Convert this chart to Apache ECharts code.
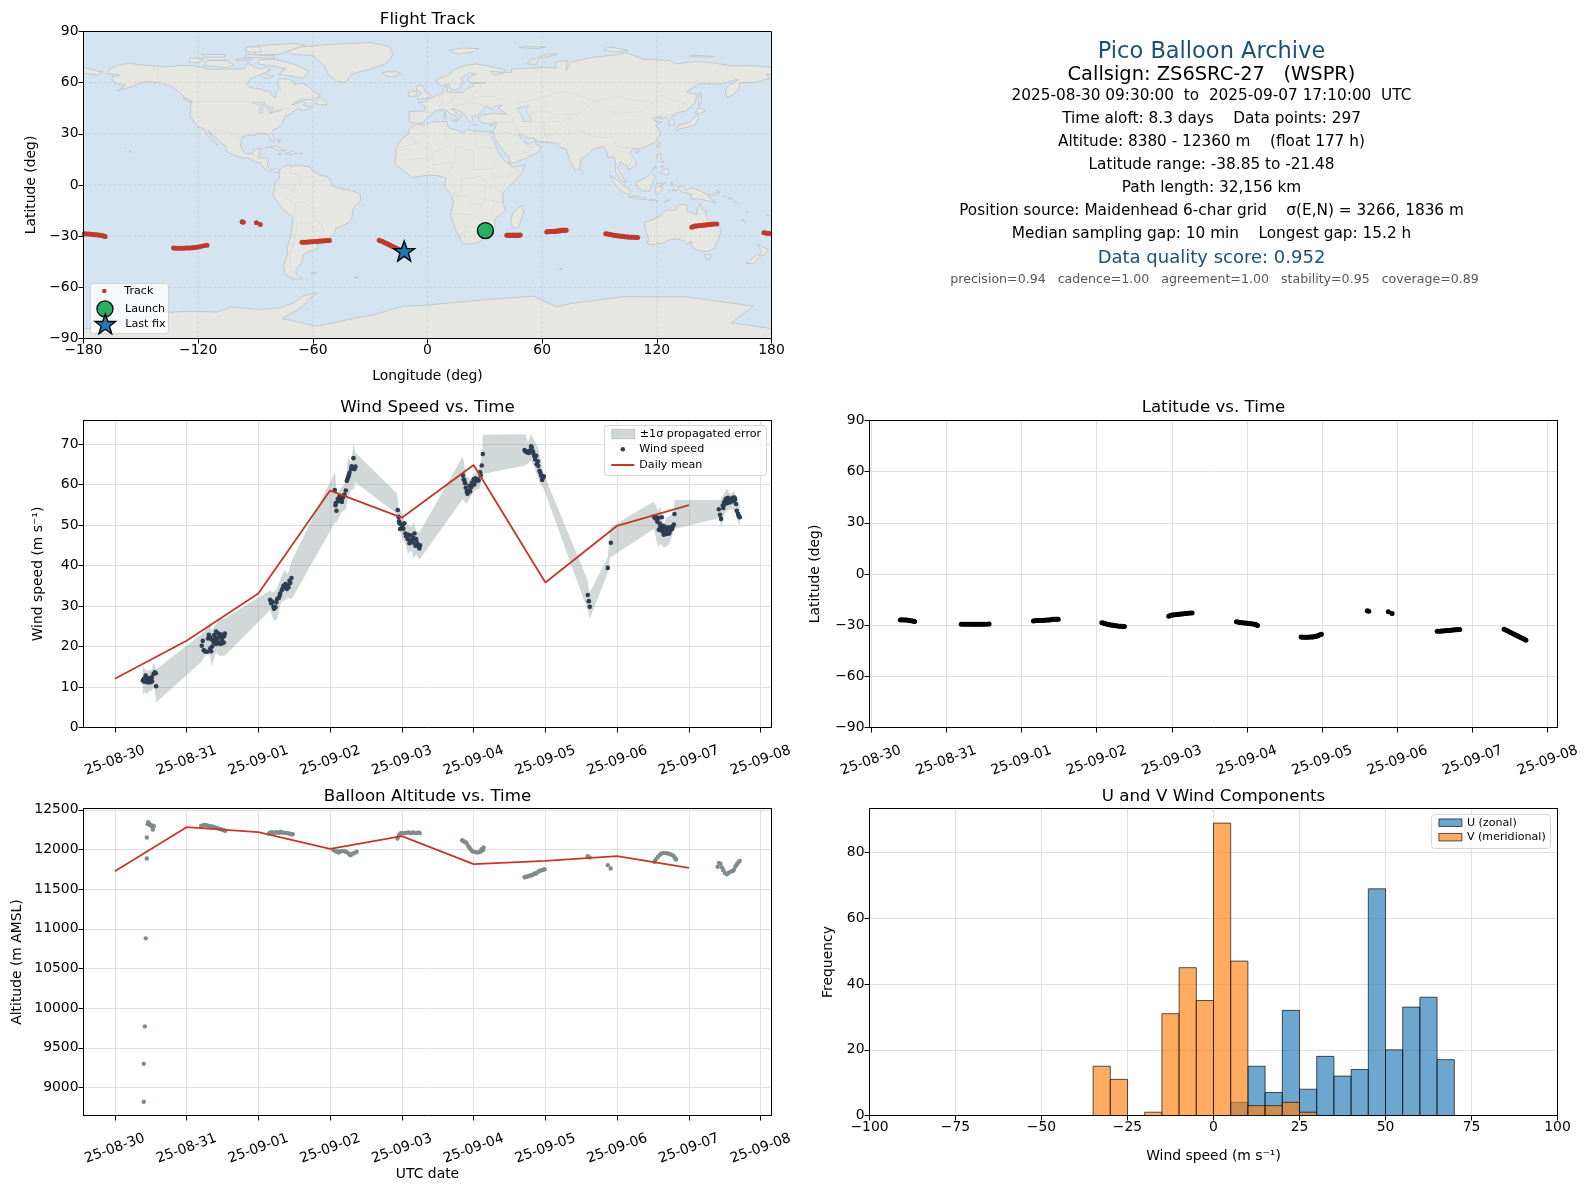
<!DOCTYPE html>
<html><head><meta charset="utf-8"><style>html,body{margin:0;padding:0;background:#fff}#c{width:1588px;height:1189px}</style>
<script src="https://cdn.jsdelivr.net/npm/echarts@6/dist/echarts.min.js"></script></head>
<body><div id="c"></div>
<script>
// ---------- tick labels ----------
const dayTicks = [0,1,2,3,4,5,6,7,8,9];
const dayLabels = ['25-08-30','25-08-31','25-09-01','25-09-02','25-09-03','25-09-04','25-09-05','25-09-06','25-09-07','25-09-08'];
const altTicks = [9000,9500,10000,10500,11000,11500,12000,12500];
const windTicks = [0,10,20,30,40,50,60,70];
const freqTicks = [0,20,40,60,80];
const lonLines = [-120,-60,0,60,120];
const latLines = [-60,-30,0,30,60];
// ---------- track (day since 08-30 00:00 UTC, lat, lon) ----------
const trackDay = [0.39,0.41,0.43,0.45,0.47,0.49,0.51,0.53,0.55,0.57,0.58,
 1.20,1.225,1.25,1.275,1.30,1.325,1.35,1.37,1.39,1.41,1.435,1.46,1.485,1.51,1.54,1.57,
 2.16,2.18,2.20,2.22,2.24,2.26,2.28,2.30,2.32,2.34,2.36,2.38,2.40,2.42,2.44,2.46,2.475,2.49,
 3.07,3.09,3.105,3.12,3.14,3.155,3.17,3.19,3.21,3.225,3.24,3.26,3.28,3.30,3.32,3.34,3.355,3.37,
 3.96,3.98,4.0,4.02,4.04,4.06,4.08,4.10,4.12,4.14,4.16,4.18,4.20,4.22,4.245,4.27,
 4.86,4.88,4.90,4.92,4.94,4.96,4.98,5.0,5.02,5.04,5.06,5.08,5.10,5.115,5.13,5.14,
 5.72,5.74,5.76,5.78,5.80,5.82,5.84,5.86,5.875,5.89,5.905,5.92,5.935,5.95,5.97,5.99,
 6.60,6.62,6.88,6.93,
 7.53,7.55,7.57,7.59,7.61,7.63,7.65,7.67,7.69,7.71,7.73,7.75,7.77,7.79,7.81,7.83,
 8.42,8.44,8.46,8.48,8.50,8.52,8.54,8.56,8.58,8.60,8.62,8.64,8.66,8.68,8.695,8.71];
const trackLat = [-26.9,-26.8,-26.9,-27.0,-27.0,-27.1,-27.3,-27.4,-27.6,-27.7,-27.8,
 -29.4,-29.4,-29.5,-29.4,-29.4,-29.5,-29.4,-29.4,-29.4,-29.5,-29.4,-29.4,-29.5,-29.4,-29.4,-29.3,
 -27.5,-27.4,-27.3,-27.3,-27.2,-27.2,-27.2,-27.1,-27.1,-27.0,-27.0,-26.9,-26.7,-26.6,-26.5,-26.5,-26.5,-26.6,
 -28.6,-28.8,-29.0,-29.2,-29.4,-29.6,-29.7,-29.9,-30.0,-30.1,-30.3,-30.4,-30.5,-30.6,-30.7,-30.7,-30.8,-30.8,
 -24.8,-24.4,-24.1,-24.0,-23.9,-23.8,-23.7,-23.6,-23.5,-23.4,-23.3,-23.2,-23.1,-23.0,-22.9,-22.9,
 -28.0,-28.2,-28.4,-28.5,-28.6,-28.7,-28.8,-28.9,-29.0,-29.1,-29.2,-29.3,-29.4,-29.6,-29.9,-30.2,
 -37.0,-37.05,-37.1,-37.1,-37.1,-37.1,-37.0,-37.0,-36.9,-36.8,-36.7,-36.5,-36.3,-36.0,-35.6,-35.3,
 -21.5,-21.8,-22.2,-23.1,
 -33.5,-33.5,-33.5,-33.4,-33.4,-33.3,-33.3,-33.2,-33.1,-33.0,-32.9,-32.8,-32.7,-32.7,-32.6,-32.5,
 -32.4,-32.8,-33.2,-33.7,-34.2,-34.6,-35.0,-35.5,-35.9,-36.3,-36.8,-37.2,-37.6,-38.0,-38.4,-38.85];
const trackLon = [30.3,30.5,30.8,31.0,31.3,31.6,31.9,32.2,32.6,33.0,33.3,
 41.5,42.0,42.5,43.0,43.4,43.9,44.3,44.7,45.1,45.5,46.0,46.5,47.0,47.5,48.0,48.5,
 62.4,63.0,63.6,64.2,64.8,65.4,66.0,66.6,67.2,67.8,68.4,69.0,69.6,70.2,70.8,71.4,72.0,72.6,
 93.3,94.3,95.3,96.3,97.3,98.3,99.3,100.3,101.2,102.1,103,103.9,104.8,105.8,106.8,107.9,109,110,
 138.3,139.2,140.1,141,141.8,142.6,143.4,144.2,145,145.8,146.6,147.4,148.2,149.1,150.2,151.4,
 176,177,178,179,-179.6,-178.6,-177.6,-176.5,-175.4,-174.4,-173.4,-172.4,-171.4,-170.4,-169.5,-168.7,
 -132.9,-131.8,-130.7,-129.6,-128.5,-127.4,-126.3,-125.2,-124.1,-123,-121.9,-120.8,-119.7,-118.6,-117,-115.4,
 -97.0,-96.4,-89.5,-87.5,
 -65.7,-64.7,-63.7,-62.8,-61.9,-61,-60,-59,-58,-57,-56.1,-55.2,-54.3,-53.3,-52.3,-51.3,
 -25.3,-24.4,-23.5,-22.6,-21.7,-20.9,-20.1,-19.3,-18.5,-17.7,-16.9,-16.1,-15.3,-14.5,-13.4,-12.2];
const launchLonLat = [30.3,-26.7];
const lastFixLonLat = [-12.2,-38.7];
// ---------- wind speed ----------
const windDay = [0.39,0.404,0.423,0.437,0.451,0.464,0.478,0.492,0.506,0.52,0.539,0.557,0.571,0.576,
 1.212,1.226,1.24,1.263,1.287,1.31,1.328,1.342,1.356,1.379,1.393,1.412,1.421,1.44,1.458,1.472,1.491,1.505,1.519,1.533,
 2.164,2.192,2.211,2.239,2.262,2.285,2.304,2.327,2.35,2.378,2.397,2.42,2.434,2.462,
 3.065,3.075,3.089,3.107,3.13,3.154,3.177,3.2,3.219,3.233,3.251,3.27,3.293,3.326,3.344,3.353,
 3.943,3.953,3.967,3.976,4.004,4.036,4.05,4.083,4.106,4.129,4.152,4.176,4.199,4.222,4.236,4.254,
 4.85,4.863,4.882,4.905,4.928,4.942,4.965,4.979,5.002,5.025,5.058,5.091,5.114,5.128,
 5.709,5.732,5.755,5.779,5.802,5.825,5.848,5.872,5.88,5.895,5.918,5.941,5.955,5.978,
 6.591,6.605,6.619,6.87,6.912,
 7.511,7.544,7.572,7.581,7.59,7.604,7.622,7.636,7.65,7.674,7.692,7.715,7.738,7.766,7.79,7.799,
 8.417,8.435,8.449,8.472,8.491,8.51,8.528,8.547,8.565,8.589,8.612,8.635,8.658,8.667,8.686,8.709,
 0.41,0.43,0.445,0.47,0.50,0.515,
 1.30,1.33,1.35,1.385,1.41,1.43,1.45,1.475,1.50,1.525,
 2.18,2.22,2.25,2.30,2.34,2.365,2.41,2.445,
 3.08,3.12,3.14,3.165,3.24,3.26,3.30,3.34,
 3.96,3.99,4.02,4.06,4.09,4.115,4.14,4.165,4.19,4.21,4.245,
 4.87,4.89,4.915,4.95,4.99,5.01,5.04,5.07,5.10,
 5.72,5.74,5.77,5.81,5.835,5.86,5.90,5.93,5.965,
 7.53,7.56,7.60,7.63,7.645,7.66,7.68,7.70,7.725,7.75,7.775,
 8.48,8.50,8.52,8.54,8.555,8.58,8.60,8.625,8.645,8.695];
const windSpeed = [11.6,12.0,11.4,12.4,11.7,11.1,12.2,11.7,12.0,11.4,13.2,13.6,13.4,10.2,
 20.2,21.4,19.1,18.7,18.7,22.9,22.3,18.8,20.0,21.0,21.8,23.7,21.3,23.2,22.3,20.6,21.6,22.3,21.0,23.2,
 31.5,31.1,29.8,29.7,31.7,32.0,33.1,33.9,35.0,35.4,34.2,34.6,36.2,36.9,
 58.6,54.9,53.5,56.4,57.0,56.2,56.7,57.5,58.5,60.9,61.8,62.9,63.8,66.5,64.2,64.4,
 53.7,52.0,50.4,49.0,49.8,50.4,47.9,46.5,45.5,47.4,45.7,47.9,46.5,45.1,44.5,45.0,
 62.3,61.3,60.3,58.2,58.5,59.7,59.3,60.5,61.3,61.5,61.3,63.0,64.7,67.5,
 68.5,68.2,67.9,68.3,69.4,68.2,66.9,67.1,65.0,65.7,63.4,62.2,61.1,62.0,
 32.7,31.2,29.8,39.4,45.6,
 52.1,51.9,51.7,48.8,50.4,48.8,51.9,49.8,47.6,49.0,47.8,49.4,48.6,49.0,50.1,52.7,
 53.9,52.5,51.5,54.8,55.6,56.2,55.8,56.7,56.0,56.2,56.7,56.8,55.2,53.5,52.7,51.9,
 11.3,12.8,12.1,11.5,11.2,12.4,
 22.0,19.5,21.7,22.8,20.6,22.1,20.9,23.0,20.8,22.6,
 30.7,29.3,30.9,32.6,34.4,34.9,35.1,35.7,
 55.4,55.9,56.9,55.7,61.2,62.3,64.5,63.8,
 50.9,50.2,49.1,47.2,47.6,46.1,46.4,46.8,44.9,45.6,44.2,
 60.9,59.2,57.7,58.3,60.2,60.0,60.9,61.0,62.2,
 68.2,68.0,67.8,69.1,67.6,66.2,64.6,62.9,61.6,
 51.6,50.8,49.6,48.4,48.9,49.6,48.2,48.9,47.9,49.4,49.7,
 54.2,55.1,56.5,55.4,56.4,55.6,56.4,55.9,56.3,52.2];
// ---------- +/-1 sigma band ----------
const bandDay = [0.39,0.418,0.451,0.483,0.52,0.548,0.576,
 1.212,1.273,1.328,1.347,1.412,1.458,1.533,
 2.164,2.211,2.257,2.318,2.364,2.411,2.466,
 3.07,3.093,3.154,3.223,3.247,3.293,3.326,3.353,
 3.934,3.957,3.99,4.059,4.083,4.129,4.166,4.199,4.245,
 4.85,4.896,4.942,5.012,5.082,5.119,5.128,
 5.723,5.755,5.802,5.848,5.895,5.941,5.978,
 6.591,6.605,6.619,6.87,6.902,
 7.511,7.572,7.599,7.646,7.692,7.738,7.785,7.799,
 8.426,8.449,8.486,8.528,8.574,8.635,8.667,8.709];
const bandHigh = [15.3,14.4,14.0,14.2,14.4,16.1,14.4,
 23.1,24.3,26.2,23.9,25.5,26.8,27.0,
 33.8,33.4,34.2,37.1,38.9,37.9,41.2,
 63.2,57.6,59.3,60.5,66.7,65.5,70.2,67.9,
 57.8,53.9,53.5,49.8,50.2,49.4,50.7,48.6,48.2,
 66.9,62.2,61.3,62.6,64.2,67.5,72.3,
 72.4,70.4,72.4,70.8,69.2,65.9,62.6,
 36.3,33.8,33.4,42.0,49.4,
 55.8,53.5,54.8,50.2,51.9,52.3,53.1,56.2,
 56.2,56.4,57.6,59.1,57.6,58.4,56.0,54.8];
const bandLow = [7.9,8.7,8.3,9.1,9.1,10.3,6.2,
 16.3,18.3,17.7,15.1,18.6,17.7,17.7,
 29.0,26.5,26.5,30.9,31.3,32.1,31.7,
 50.7,50.7,53.1,53.9,56.4,58.5,58.9,60.5,
 52.7,49.8,47.4,44.9,42.8,43.7,41.6,42.8,41.4,
 56.4,55.2,56.4,58.5,58.9,62.2,62.6,
 64.7,65.2,65.9,64.2,61.8,59.7,58.9,
 28.9,28.0,26.8,38.3,42.0,
 49.0,44.5,45.3,44.5,44.7,45.7,48.6,49.0,
 51.7,49.4,52.3,53.5,53.9,53.5,51.5,49.6];
// ---------- daily means ----------
const meanDay = [0,1,2,3,4,5,6,7,8];
const meanWind = [12.05,21.4,33.1,58.5,51.8,64.8,35.8,49.8,54.9];
const meanAlt = [11727,12281,12218,12008,12168,11815,11857,11916,11769];
// ---------- altitude ----------
const altDay = [0.404,0.404,0.418,0.432,0.446,0.446,0.46,0.465,0.472,0.48,0.49,0.50,0.51,0.52,0.53,0.535,0.545,
 1.203,1.225,1.25,1.27,1.29,1.31,1.33,1.35,1.37,1.40,1.43,1.46,1.49,1.52,1.54,
 2.146,2.17,2.19,2.21,2.24,2.26,2.29,2.31,2.33,2.36,2.38,2.40,2.43,2.46,2.48,
 3.05,3.07,3.085,3.10,3.12,3.13,3.15,3.17,3.20,3.22,3.25,3.27,3.285,3.30,3.32,3.345,3.37,
 3.94,3.96,3.98,4.0,4.03,4.06,4.09,4.12,4.15,4.18,4.21,4.23,4.25,
 4.84,4.86,4.88,4.90,4.92,4.94,4.96,4.98,5.01,5.04,5.07,5.10,5.13,5.14,5.11,
 5.71,5.73,5.75,5.77,5.79,5.81,5.83,5.85,5.87,5.89,5.91,5.93,5.95,5.97,5.99,
 6.59,6.62,6.87,6.91,
 7.52,7.54,7.57,7.60,7.62,7.65,7.68,7.71,7.74,7.77,7.79,7.81,7.82,
 8.40,8.42,8.44,8.46,8.48,8.50,8.53,8.55,8.58,8.61,8.63,8.65,8.67,8.69,8.71];
const altitude = [8820,9300,9770,10880,11887,12152,12320,12345,12335,12320,12310,12305,12300,12295,12252,12300,12295,
 12298,12302,12311,12306,12302,12294,12290,12290,12286,12277,12269,12260,12252,12244,12235,
 12202,12214,12218,12210,12214,12218,12210,12223,12214,12210,12210,12206,12202,12193,12193,
 11992,11983,11979,11971,11962,11971,11979,11983,11979,11971,11958,11941,11929,11941,11950,11958,11971,
 12139,12181,12202,12210,12206,12210,12214,12206,12214,12210,12206,12214,12206,
 12118,12105,12095,12084,12050,12025,12000,11979,11970,11962,11965,11975,11992,12025,12005,
 11651,11656,11660,11666,11672,11677,11685,11698,11698,11712,11727,11735,11740,11746,11752,
 11916,11899,11803,11761,
 11845,11878,11908,11937,11950,11958,11954,11950,11940,11929,11916,11887,11874,
 11782,11832,11820,11773,11740,11705,11689,11705,11719,11730,11748,11790,11815,11840,11857];
// ---------- histogram ----------
const binStart = [-100,-95,-90,-85,-80,-75,-70,-65,-60,-55,-50,-45,-40,-35,-30,-25,-20,-15,-10,-5,0,5,10,15,20,25,30,35,40,45,50,55,60,65,70,75,80,85,90,95];
const uCounts  = [0,0,0,0,0,0,0,0,0,0,0,0,0,0,0,0,0,0,0,0,0,4,15,7,32,8,18,12,14,69,20,33,36,17,0,0,0,0,0,0];
const vCounts  = [0,0,0,0,0,0,0,0,0,0,0,0,0,15,11,0,1,31,45,35,89,47,3,3,4,1,0,0,0,0,0,0,0,0,0,0,0,0,0,0];
// ---------- map outlines (lon, lat) ----------
const landPolygons = [
 [[-168,65.5],[-166,68.3],[-162,70.2],[-156.5,71.3],[-150,70.5],[-141,69.7],[-135,69.3],[-128,70.2],[-120,69.5],[-115,68],[-108,67.8],[-101,68],[-96,68.2],[-94,71.5],[-90,69],[-87,67.8],[-85,69.3],[-82,67.5],[-87,65],[-93,62],[-94.5,58.8],[-92.5,57],[-88,56.5],[-85,55.3],[-82.3,55],[-82,52.9],[-79.5,51.3],[-79,54.5],[-76.8,56.5],[-78.5,58.7],[-78,62.3],[-73,62.2],[-70,61],[-69.5,58.8],[-65.5,59.8],[-62,57.5],[-60,55.3],[-56,52.5],[-60,50.2],[-66,50.2],[-69,48.5],[-71,46.9],[-65,49],[-64.2,48],[-65,46.5],[-61,46],[-60,47],[-61,45.3],[-65.5,43.5],[-66.5,44.8],[-67,45],[-70,43.7],[-71,42],[-74,40.6],[-75.5,38],[-76,35.5],[-78,33.9],[-81,32],[-81.5,30.5],[-80.2,27],[-80.3,25.3],[-81.8,26],[-82.8,28.5],[-84,30],[-86,30.4],[-89.5,30.2],[-90,29.1],[-94,29.5],[-97.2,27.8],[-97.7,22.5],[-96,19.2],[-94.3,18.2],[-91.5,18.5],[-90.4,21],[-87,21.5],[-88,18],[-88.8,15.9],[-84,15.8],[-83.3,14.9],[-83.7,11],[-82,9],[-79.5,9.5],[-77.3,8.7],[-78,7.3],[-80,7.3],[-81.7,8],[-83.6,8.5],[-85.7,10],[-87.5,13],[-91,14],[-94,16],[-96.5,15.7],[-101.5,17.5],[-105.5,20],[-105.5,22.5],[-109,25.8],[-112.5,29.5],[-114.7,31.7],[-113,28],[-110,24],[-109.7,23],[-112,25],[-114.5,28],[-116.7,32.5],[-120.5,34.5],[-122.5,37.5],[-124.2,40.3],[-124,46],[-123,49],[-127,51],[-130,54.5],[-133,57],[-137,58.8],[-141,60],[-146,60.8],[-151,59.5],[-153,58.5],[-157,57],[-162.5,55],[-158,58.5],[-162,59],[-165,61],[-165,63.5],[-161,64.3]],
 [[-80,73.7],[-72,71.5],[-68,70],[-62,66.5],[-65,62.5],[-72,64],[-78,65],[-74,68],[-82,70],[-89,71],[-88,73.5]],
 [[-117,70],[-105,68.8],[-101,70],[-105,73],[-115,73]],
 [[-125,72],[-120,71.5],[-117,74],[-124,74.3]],
 [[-90,76.5],[-78,76.5],[-64,82],[-70,83],[-90,81.5]],
 [[-96,75],[-80,74.5],[-80,75.8],[-95,76.5]],
 [[-95,78],[-87,78],[-88,81],[-95,81]],
 [[-117,75],[-106,75],[-106,76.5],[-118,76.5]],
 [[-100,73],[-93,72.8],[-92,74],[-100,74]],
 [[-86,65.5],[-80.5,63.7],[-84,62.5],[-87,63.7]],
 [[-128,50.8],[-125,50],[-123.5,48.4],[-125.5,48.8]],
 [[-73,78.5],[-66,81],[-50,82.5],[-30,83.5],[-20,81.5],[-18,76.5],[-22,71],[-30,68],[-40,65],[-43,60],[-48,61],[-52,65],[-54,70],[-60,76],[-70,76.5]],
 [[-59,47.7],[-53,46.7],[-53,49],[-56,51.5],[-59,48.5]],
 [[-85,21.9],[-80,23.1],[-74.2,20.2],[-77.5,19.9],[-82,22.3]],
 [[-74.3,18.4],[-70,19.8],[-68.4,18.6],[-71.5,17.8]],
 [[-78.3,18.4],[-76.3,18.1],[-77.2,17.8]],
 [[-67.2,18.5],[-65.7,18.4],[-66,18]],
 [[-78.5,26.8],[-77,26.5],[-77.8,24.5]],
 [[-156,19.2],[-155,19.5],[-155.5,20.2]],
 [[-158.2,21.5],[-157.7,21.3],[-157.9,21.7]],
 [[-77.3,8.7],[-75.5,10.8],[-72,12],[-71.5,10.8],[-68,11.5],[-62,10.7],[-60,8.5],[-57,6],[-52,4.8],[-50,1],[-50,-0.5],[-44.5,-2.5],[-40,-3],[-35.2,-5.5],[-35,-9],[-39,-14],[-39.5,-19],[-41,-22],[-48,-25.5],[-48.6,-28],[-53,-33.5],[-56.5,-34.8],[-58.3,-34],[-57,-37],[-62,-39],[-65,-41],[-65.5,-45],[-69,-50.5],[-68,-53],[-65,-55],[-70,-55.3],[-74.5,-52],[-75.5,-47],[-73,-40],[-73.5,-37],[-71.5,-30],[-70.3,-19],[-76,-14],[-81,-6],[-80,-2.5],[-80,1],[-77.5,4],[-77.4,7]],
 [[-61,-51.7],[-58,-51.5],[-59,-52.3]],
 [[-5.9,35.8],[-2,35.1],[3,36.9],[10,37.3],[11,33.5],[15,32.3],[19,30.3],[20.5,32.7],[25,31.7],[32,31.2],[34.2,31.3],[32.5,29.5],[35.5,24],[37.3,19],[39.5,15],[43.2,12],[44.5,10.5],[51.2,11.9],[49,6.5],[43,-0.5],[39.5,-4.5],[39.5,-10],[40.7,-15],[35,-20],[35.5,-24],[32.8,-26],[31,-30],[26,-34],[20,-34.8],[18.3,-34],[15,-27],[12,-17],[13.7,-10],[12,-5],[9,-1],[9.7,4],[5,5.5],[1,5.8],[-4,5.1],[-8,4.4],[-13,8.5],[-17,12.5],[-17,15],[-16.3,19],[-17,21],[-13,27.5],[-10,30],[-9.5,33]],
 [[49.3,-12],[50.5,-16],[47.5,-25],[45,-25.5],[43.5,-22],[44.5,-16.5]],
 [[-9.5,37],[-9.5,43],[-1.5,43.5],[-1.2,46],[-4.8,48.4],[-1.5,48.7],[1.5,50.5],[4,52],[8,54],[8.5,57],[10.5,57.7],[10,54.8],[14,54],[19,54.5],[21,56.8],[24,58],[23,59.2],[30,60],[23,60],[21.3,61],[21.5,63],[25.3,65],[22,65.8],[17.5,62.5],[18.5,60],[16.5,56.5],[14,55.5],[12.5,56],[11,59],[7,58],[5,60],[5,62],[10,64],[14,67.5],[19,70],[25,71],[31,70],[41,67.5],[40,65.7],[35,64.4],[33,66.7],[37,66.2],[44,66],[44,68],[54,68.5],[60,69],[67,68.5],[67,72],[73,73],[72.5,67],[75,72],[81,73.5],[87,75],[100,76.5],[104,77.7],[113,73.8],[127,73],[130,71],[140,72.5],[150,71.5],[160,69.7],[170,70],[180,69],[180,65],[177,64.7],[179,62.3],[170,60],[163.5,60],[163,56.5],[160,53],[156.8,51],[155.7,56],[158,58.5],[163,61.8],[160,61.5],[155,59.3],[142,59.3],[135.5,54.7],[141,53],[140,48],[135,43.5],[130.7,42.3],[127.5,39.7],[129.4,37],[129,35.2],[126.3,34.5],[126.7,37.5],[125,39.6],[121.2,39],[122,40.5],[118,39],[119,37.3],[122.5,37],[119.3,35],[122,31],[121.5,28.5],[119,25],[114.5,22.5],[110,21],[108,21.5],[106,19],[109,14],[109,11.5],[105,8.7],[105,10.3],[102.5,12.2],[100.8,13.4],[99.5,10],[101,7],[104,1.4],[101.3,2.8],[98.3,8],[98.5,12],[97.5,16.5],[94.3,16],[94,19],[91.8,22.5],[89,21.8],[86.8,21],[82.3,16.5],[80.2,15],[80,11],[77.6,8],[75.5,11.8],[73,19],[72.7,21],[69,22.3],[67,24.8],[61.5,25.1],[57,25.7],[56.5,27],[51.5,28],[48.5,30.2],[48,29],[50.2,25.5],[51.5,25.5],[52,24],[54,24.2],[56.3,26],[56.8,24],[59.8,22.5],[57.8,19],[52,16],[45,12.8],[43.3,12.7],[42.5,16.5],[39,21],[35,28],[34.9,29.5],[34.2,31.3],[35.5,33.5],[36,36.7],[32,36],[28,36.6],[26.3,39.3],[29,41],[35,42],[41.5,41.5],[37,45],[39,47],[35,46],[33.5,44.5],[30.7,46.5],[28,43],[26,40.7],[23,40.3],[24,38],[22.8,36.5],[21,38.5],[19.5,41.5],[15,44.2],[12.5,44.8],[13.5,43.5],[16,41.5],[18.5,40.2],[16.5,39.5],[16,38],[15.7,40],[12,42],[9,44.3],[4,43.4],[3.2,42],[0,39.5],[-2,36.8],[-5.5,36]],
 [[-180,65],[-180,69],[-175,67.5],[-170,66.2],[-173,64.3],[-178,65.5]],
 [[-5.5,50],[1.4,51.2],[1.7,52.7],[-1.5,55],[-2,57.5],[-5,58.6],[-6,56],[-3,54],[-5,52]],
 [[-10,52],[-6,52.2],[-5.7,54.8],[-8.5,55.2],[-10,54]],
 [[-24,65.5],[-22,64],[-18.5,63.4],[-14,64.8],[-16,66.4],[-22,66.4]],
 [[11,79],[16,76.8],[24,78],[27,80],[18,80.3]],
 [[52,71],[57,70.7],[58,73.8],[68,76.8],[64,77],[54,73.5]],
 [[92,79],[100,78],[105,79],[95,81]],
 [[137,75.5],[145,75],[150,75.3],[140,76]],
 [[48,80.5],[58,80],[62,81],[50,81]],
 [[8.3,41],[9.7,41],[9.5,39],[8.5,39]],
 [[12.5,38],[15.5,38.2],[15,36.8]],
 [[8.7,42.5],[9.5,43],[9.3,41.5]],
 [[23.5,35.5],[26.2,35.2],[24.5,35]],
 [[32.3,35],[34.5,35.6],[33.5,34.7]],
 [[142,46],[143.5,49],[143,54],[142,54],[142,49]],
 [[140,42],[143,42],[145.3,43.5],[142,45.5]],
 [[130.5,31.5],[131.8,33],[135.5,33.7],[140,35.2],[141.8,39],[141,41.5],[139.8,39.5],[137,37],[132.5,35.3],[130,33.3]],
 [[120,23],[121,22],[122,25],[121,25.2]],
 [[108.7,19.2],[110,18.3],[111,19.7],[110,20.1]],
 [[79.8,8],[80,9.7],[81.8,7.5],[80.6,6]],
 [[120,16],[120.5,18.5],[122.3,18.3],[122,15.5],[124,13],[121,13.8]],
 [[122,7],[125.5,5.8],[126.5,8],[125.5,9.8],[123,8.5]],
 [[122,11],[123.3,11.5],[123,9.3]],
 [[117.2,8.4],[119.5,10.4],[119.3,11.2]],
 [[109,1.5],[112,3],[115,5],[117,7],[119,5],[117.8,1],[116,-3.8],[112,-3.4],[110,-1.5]],
 [[95.3,5.6],[98,4],[103.5,-1],[106,-3],[105.8,-5.8],[102,-4],[98.5,0]],
 [[105.3,-6.8],[108.5,-6.5],[114.5,-7.7],[114.4,-8.7],[108,-7.8]],
 [[116,-8.5],[119,-8.4],[119,-9],[116,-9]],
 [[119.5,-5.5],[119,-2.7],[120,0.8],[125,1.5],[121,-0.8],[123,-1],[121.5,-4.7]],
 [[124,-10],[127,-8.4],[123.6,-10.4]],
 [[119.8,-9.4],[120.8,-9.7],[120.5,-10.2]],
 [[127.5,1.8],[128.5,1],[128,-0.8]],
 [[126,-3.2],[127.2,-3.2],[126.5,-3.8]],
 [[128,-3],[130.8,-3],[129.5,-3.6]],
 [[131,-1],[134,-0.8],[135,-3.3],[138,-1.6],[141,-2.6],[145.8,-5.2],[147.8,-6],[147,-6.8],[150.8,-10.3],[147,-9.5],[143.5,-8.5],[140,-8],[138,-8.4],[138,-5.5],[133,-4],[132,-2.8]],
 [[148.5,-5.6],[152,-4.2],[152,-5.5],[150,-6.3]],
 [[151,-2.8],[153,-4.5],[152.3,-3.5]],
 [[155,-6],[156,-7],[155.5,-6.8]],
 [[157,-7.5],[159.5,-8.3],[158.5,-8]],
 [[160,-9.3],[162,-10.6],[160.8,-9.6]],
 [[167,-15],[167.8,-15.6],[167.1,-16]],
 [[164,-20],[167,-22],[166.4,-22.3]],
 [[177.3,-17.5],[178.7,-17.7],[178,-18.3]],
 [[113.5,-22],[114,-26],[115.7,-31.5],[115,-34.3],[118,-35],[123.5,-34],[126,-32.3],[131,-31.5],[134,-32.8],[135.7,-34.9],[138,-33],[138,-35.5],[140.5,-38],[143.5,-38.8],[146.5,-39],[150,-37.3],[151.3,-33.7],[153.5,-28],[153,-25],[149.5,-22],[146,-19],[145.3,-15],[143.5,-14],[142.5,-10.8],[141.5,-13],[140.8,-17.5],[135.5,-15],[136.5,-12],[132,-11.3],[129.5,-15],[125,-14.5],[122,-18],[117,-20.7]],
 [[144.7,-40.7],[148.3,-40.9],[148,-43.2],[146,-43.6]],
 [[172.7,-34.5],[175.5,-36.5],[178.5,-37.7],[176,-41.5],[174.8,-41.3],[174.5,-38.8]],
 [[172.7,-40.5],[174.3,-41.7],[170.7,-46],[166.5,-46],[170,-43]],
 [[69,-49],[70.5,-49],[69.5,-49.8]],
 [[-38,-54],[-36,-54.2],[-37,-54.7]],
 [[-180,-90],[-180,-84.3],[-160,-82],[-150,-78],[-140,-75],[-125,-74],[-110,-74.5],[-103,-71.5],[-88,-73],[-77,-72],[-70,-69],[-65,-65],[-58,-63.2],[-62,-67],[-66,-72],[-76,-78.3],[-58,-82.8],[-42,-79],[-28,-76],[-12.5,-71],[-4,-70.8],[8.4,-69.5],[32.8,-67],[55.5,-65.2],[67.7,-71.4],[75,-69.5],[102.6,-65.5],[135.7,-65.6],[170.6,-71],[159,-80.8],[180,-84.2],[180,-90]]
];
const inlandSeas = [
 [[47,45],[53,46.8],[51.5,43],[54,40],[54,37],[50,37.5],[49.5,40.5],[47.5,43]],
 [[-92,48.5],[-85,48.5],[-84.5,46.6],[-88,46.8]],
 [[-88,45],[-86.3,45.5],[-86.5,42],[-87.7,42]],
 [[-84.5,45.8],[-80.5,45.5],[-82,43.2]],
 [[-83,42],[-79,43],[-76.3,44],[-79.7,43.6]]
];
const borderLines = [
 [[-123,49],[-95,49],[-89,48],[-83,46],[-82.5,42],[-79,43],[-75,45],[-71,45],[-67.5,47],[-67,45]],
 [[-141,70],[-141,60],[-135,58.5],[-130,55]],
 [[-117,32.5],[-108,31.5],[-106,31.7],[-101,29.5],[-97.3,26]],
 [[-92,14.5],[-91,17.8],[-89,17.8],[-88.2,16]],
 [[-51.5,4],[-56,2],[-60,5],[-64,4],[-67,1],[-70,0],[-70,-4],[-74,-7.5],[-70,-11],[-65,-10],[-60,-13.5],[-58,-20],[-55,-24],[-54,-27],[-57.5,-30],[-53.5,-33.5]],
 [[-72,12],[-72,7],[-67.5,6],[-67,1]],
 [[-80,-3.5],[-75,-1],[-70,-4]],
 [[-79,1.5],[-75,-1]],
 [[-69.5,-17.5],[-68,-23],[-70,-33],[-71.5,-40],[-72,-50],[-68.5,-52.5]],
 [[-68,-23],[-62.5,-22],[-58,-20]],
 [[-69.5,-17.5],[-69,-11]],
 [[-62.5,-22],[-58,-27],[-54.5,-26]],
 [[-13,27.5],[-8.7,27.5],[-1,32],[-2,35]],
 [[-8.7,27.5],[3,19],[12,23.5],[9.5,30],[8.5,37]],
 [[25,31.7],[25,22]],
 [[25,22],[36.9,22]],
 [[15,23],[24,19.5],[24,9]],
 [[-17,21],[-5,25]],
 [[-12,15],[-5,15.5],[3,15],[3,19]],
 [[3,6.5],[3,12],[14,13],[9,4.5]],
 [[14,13],[15,23]],
 [[24,9],[34,9.5],[36,15],[38.5,18]],
 [[34,9.5],[35,5],[41,4],[48,8],[43,11]],
 [[12.5,-5],[18,-4],[18,3.5],[27,5],[31,2],[29.5,-4],[30,-8.5],[28,-12],[22,-11],[22,-7],[13,-6]],
 [[30,-1],[34,-1],[39.5,-4.7]],
 [[30,-8.5],[40.5,-10.5]],
 [[12,-17],[24,-17.5]],
 [[20,-22],[20,-28.5],[16.5,-28.5]],
 [[20,-22],[25,-18],[29,-22],[26,-25],[20,-25]],
 [[33,-26],[32,-22],[33,-16],[35,-11.5]],
 [[-1.8,43.4],[3,42.5]],
 [[2.5,51],[6,49.5],[8,49],[7.5,47.5],[6,46],[7.5,44]],
 [[-7,37],[-7,42],[-8.8,42]],
 [[6,51],[7,53.5]],
 [[14,54],[15,51],[12.5,50.5],[13,48],[9.5,47.5]],
 [[15,51],[19,50],[22.5,49],[24,51],[23.5,54],[28,56],[28,59.5]],
 [[13.5,46.5],[22.5,48],[26,48],[30,46]],
 [[22,41.5],[28,42]],
 [[40,50],[34,52],[31,52],[24,51]],
 [[47,48],[60,51],[71,55],[77,53.5],[87,49]],
 [[87,49],[98,52],[107,50],[118,48],[112,43],[100,42],[91,45],[87,49]],
 [[118,48],[122,53],[127,50],[135,48],[131,43],[130.7,42.3]],
 [[87,49],[80,42],[74,39.5],[79,32],[88,28],[97,28],[98,24],[102,22],[108,21.5]],
 [[74,34.5],[74,30],[70,25],[68,23.7]],
 [[44.5,39.5],[46,34],[48.5,30.2]],
 [[61,36.5],[61,31],[63,27],[61.5,25]],
 [[54,37.5],[61,36.5],[66,37.5],[71,37],[74,39.5]],
 [[61,29.5],[66,29.5],[71,34],[74,37]],
 [[35,29.5],[39,32],[46,29],[48,29],[52,23],[55,22],[52,19],[43,17]],
 [[26.5,42],[36,36.7],[44.5,37],[44.5,39.5],[41.5,41.5]],
 [[97.5,18],[100,20.5],[104,19],[107,14],[105,10.5]],
 [[54,42],[60,44],[68,41],[80,42]],
 [[124,40],[130.7,42.3]],
 [[126,38],[128.5,38.5]]
];
// ---------- text panel ----------
const infoText = [
 'Pico Balloon Archive',
 'Callsign: ZS6SRC-27   (WSPR)',
 '2025-08-30 09:30:00  to  2025-09-07 17:10:00  UTC',
 'Time aloft: 8.3 days    Data points: 297',
 'Altitude: 8380 - 12360 m    (float 177 h)',
 'Latitude range: -38.85 to -21.48',
 'Path length: 32,156 km',
 'Position source: Maidenhead 6-char grid    σ(E,N) = 3266, 1836 m',
 'Median sampling gap: 10 min    Longest gap: 15.2 h',
 'Data quality score: 0.952',
 'precision=0.94   cadence=1.00   agreement=1.00   stability=0.95   coverage=0.89'
];
// ---------- layout ----------
const infoY = [52,75,96,119,142,165,188,211,234,258.5,279.5];
const infoSize = [22.5,19.45,15.3,15.3,15.3,15.3,15.3,15.3,15.3,18,12.6];
const infoColor = ['#1a5276','#000','#000','#000','#000','#000','#000','#000','#000','#1a5276','#555'];
const FONT = 'DejaVu Sans';
const L = 83.5, R = 869.5, W = 688, H = 307;
const grids = [[L,31.5],[L,420.5],[R,420.5],[L,808.5],[R,808.5]];
const RED = '#c0392b', NAVY = '#2c3e50', GREY = '#7f8c8d';
const gridColor = '#e0e0e0';
const starPath = 'path://M12 0L14.9 8.3L23.4 8.3L16.6 13.5L19.1 22L12 16.9L4.9 22L7.4 13.5L0.6 8.3L9.1 8.3Z';
const tickStyle = {show:true,length:5,lineStyle:{color:'#000',width:1}};
const lineAxis = {show:true,onZero:false,lineStyle:{color:'#000',width:1}};
const minus = v => String(v).replace('-','\u2212');
const label = {color:'#000',fontSize:13.9,fontFamily:FONT,margin:5,formatter:minus};
const nameStyle = {color:'#000',fontSize:13.9,fontFamily:FONT};

function dayAxis(grid,min,max,name){
  return {type:'value',gridIndex:grid,min,max,position:'bottom',
    name:name||'',nameLocation:'middle',nameGap:50,nameTextStyle:nameStyle,
    axisLine:lineAxis,axisTick:Object.assign({},tickStyle,{customValues:dayTicks}),
    splitLine:{show:true,lineStyle:{color:gridColor,width:1}},
    axisLabel:Object.assign({},label,{customValues:dayTicks,rotate:20,align:'center',verticalAlign:'middle',margin:33,
      formatter:v=>dayLabels[Math.round(v)]})};
}
function customYAxis(grid,min,max,ticks,name,gap){
  return {type:'value',gridIndex:grid,min,max,name,nameLocation:'middle',nameGap:gap,nameTextStyle:nameStyle,
    axisLine:lineAxis,axisTick:Object.assign({},tickStyle,{customValues:ticks}),
    splitLine:{show:true,lineStyle:{color:gridColor,width:1}},
    axisLabel:Object.assign({},label,{customValues:ticks})};
}
const zipP = (a,b)=>a.map((v,i)=>[v,b[i]]);

// w,h: icon slot; drawn: real width of the glyph inside the slot (legend layout starts at the glyph)
function legendItem(name,textX,cy,w,h,drawn,icon,extra){
  const boxH = Math.max(h,13);
  return Object.assign({data:[icon?{name,icon}:{name}],left:textX-5-w/2-drawn/2,top:cy-boxH/2,padding:0,itemWidth:w,itemHeight:h,itemGap:0,
    orient:'vertical',selectedMode:false,z:11,textStyle:{color:'#000',fontSize:11.1,fontFamily:FONT}},extra||{});
}
function frame(x,y,w,h){
  return {type:'rect',z:10,silent:true,shape:{x:x+.5,y:y+.5,width:w,height:h,r:3},style:{fill:'rgba(255,255,255,0.8)',stroke:'rgba(204,204,204,0.8)',lineWidth:1}};
}
function histSeries(name,counts,color){
  return {type:'custom',name,xAxisIndex:4,yAxisIndex:4,clip:true,z:2,
    itemStyle:{color,opacity:.65},
    data:binStart.map((b,i)=>[b,b+5,counts[i]]),
    renderItem(p,api){
      const a=api.coord([api.value(0),api.value(2)]),b=api.coord([api.value(1),0]);
      return {type:'rect',shape:{x:a[0],y:a[1],width:b[0]-a[0],height:b[1]-a[1]},
        style:{fill:color,opacity:.65,stroke:'#000',lineWidth:1}};
    }};
}
const titles = [
 ['Flight Track',L+W/2,20],['Wind Speed vs. Time',L+W/2,408],['Latitude vs. Time',R+W/2,408],
 ['Balloon Altitude vs. Time',L+W/2,797],['U and V Wind Components',R+W/2,797]
].map(t=>({text:t[0],left:t[1],top:t[2],textAlign:'center',textVerticalAlign:'middle',padding:0,
   textStyle:{color:'#000',fontSize:16.67,fontWeight:'normal',fontFamily:FONT}}));
const infoTitles = infoText.map((s,i)=>({text:s,left:R+W/2-(i===10?-1:2),top:infoY[i],textAlign:'center',textVerticalAlign:'middle',padding:0,
   textStyle:{color:infoColor[i],fontSize:infoSize[i],fontWeight:'normal',fontFamily:FONT}}));
const frameAxis = {type:'value',min:0,max:1,axisLine:lineAxis,axisTick:{show:false},axisLabel:{show:false},splitLine:{show:false}};
const frameX = [1,2,3,4].map(i=>Object.assign({},frameAxis,{gridIndex:i,position:'top'}));
const frameY = [1,2,3,4].map(i=>Object.assign({},frameAxis,{gridIndex:i,position:'right'}));
const gridStroke = {stroke:'rgba(128,128,128,0.22)',lineWidth:.8,lineDash:[3,2]};
const overlayElements = [
  {type:'rect',z:5,silent:true,shape:{x:L,y:31.5,width:W,height:H},style:{fill:'none',stroke:'#000',lineWidth:1}},
  frame(90,283,78,50),frame(604,425,162,50),frame(1431,814,119,34)];

const option = {
 animation:false,backgroundColor:'#fff',textStyle:{fontFamily:FONT},
 title:titles.concat(infoTitles),
 grid:grids.map((g,i)=>({left:g[0],top:g[1],width:W,height:H,show:true,containLabel:false,
   backgroundColor:i===0?'#d4e5f1':'#fff',borderWidth:0})),
 xAxis:[
  {type:'value',gridIndex:0,min:-180,max:180,interval:60,name:'Longitude (deg)',nameLocation:'middle',nameGap:31,nameTextStyle:nameStyle,
   axisLine:lineAxis,axisTick:tickStyle,axisLabel:label,splitLine:{show:false}},
  dayAxis(1,-0.436,9.151),
  dayAxis(2,-0.02,9.13),
  dayAxis(3,-0.436,9.151,'UTC date'),
  {type:'value',gridIndex:4,min:-100,max:100,interval:25,name:'Wind speed (m s⁻¹)',nameLocation:'middle',nameGap:34,nameTextStyle:nameStyle,
   axisLine:lineAxis,axisTick:tickStyle,axisLabel:label,splitLine:{show:true,lineStyle:{color:gridColor,width:1}}}
 ].concat(frameX),
 yAxis:[
  {type:'value',gridIndex:0,min:-90,max:90,interval:30,name:'Latitude (deg)',nameLocation:'middle',nameGap:45,nameTextStyle:nameStyle,
   axisLine:lineAxis,axisTick:tickStyle,axisLabel:label,splitLine:{show:false}},
  customYAxis(1,0,75.8,windTicks,'Wind speed (m s⁻¹)',38),
  {type:'value',gridIndex:2,min:-90,max:90,interval:30,name:'Latitude (deg)',nameLocation:'middle',nameGap:47,nameTextStyle:nameStyle,
   axisLine:lineAxis,axisTick:tickStyle,axisLabel:label,splitLine:{show:true,lineStyle:{color:gridColor,width:1}}},
  customYAxis(3,8647,12517,altTicks,'Altitude (m AMSL)',59),
  customYAxis(4,0,93.45,freqTicks,'Frequency',34)
 ].concat(frameY),
 legend:[
  legendItem('Track',124.3,292,30,4.5,4.5,'circle'),
  legendItem('Launch',124.3,308.3,30,16,16,'circle',{itemStyle:{borderColor:'#000',borderWidth:1.3}}),
  legendItem('Last fix',124.3,323.3,30,20,20,starPath,{itemStyle:{borderColor:'#000',borderWidth:1.3}}),
  legendItem('±1σ propagated error',639.3,435,23,9.5,23,'rect',{itemStyle:{color:'rgba(127,140,141,.35)',borderColor:'rgba(127,140,141,.35)',borderWidth:1}}),
  legendItem('Wind speed',639.3,450.3,23,4.5,4.5,'circle'),
  legendItem('Daily mean',639.3,466,23,2,23,'rect'),
  legendItem('U (zonal)',1466.4,823.7,23,7.5,23,'rect',{itemStyle:{color:'#1f77b4',opacity:.65,borderColor:'#000',borderWidth:1}}),
  legendItem('V (meridional)',1466.4,838.2,23,7.5,23,'rect',{itemStyle:{color:'#ff7f0e',opacity:.65,borderColor:'#000',borderWidth:1}})
 ],
 graphic:{elements:overlayElements},
 series:[
  {type:'scatter',name:'Track',xAxisIndex:0,yAxisIndex:0,z:3,symbolSize:5,itemStyle:{color:RED,opacity:1},data:zipP(trackLon,trackLat)},
  {type:'scatter',name:'Launch',xAxisIndex:0,yAxisIndex:0,z:4,symbolSize:16,itemStyle:{color:'#27ae60',opacity:1,borderColor:'#000',borderWidth:1.3},data:[launchLonLat]},
  {type:'scatter',name:'Last fix',xAxisIndex:0,yAxisIndex:0,z:4,symbol:starPath,symbolSize:[21,20],itemStyle:{color:'#1f77b4',opacity:1,borderColor:'#000',borderWidth:1.3},data:[lastFixLonLat]},
  {type:'custom',name:'±1σ propagated error',xAxisIndex:1,yAxisIndex:1,clip:true,z:2,itemStyle:{color:'rgba(127,140,141,.35)'},data:[[0]],
   renderItem(p,api){
     const up=bandDay.map((d,i)=>api.coord([d,bandHigh[i]]));
     const dn=bandDay.map((d,i)=>api.coord([d,bandLow[i]])).reverse();
     return {type:'polygon',shape:{points:up.concat(dn)},style:{fill:'rgba(127,140,141,.35)',stroke:'none'}};}},
  {type:'scatter',name:'Wind speed',xAxisIndex:1,yAxisIndex:1,z:3,symbolSize:4.6,itemStyle:{color:NAVY,opacity:1},data:zipP(windDay,windSpeed)},
  {type:'line',name:'Daily mean',xAxisIndex:1,yAxisIndex:1,z:4,symbol:'none',lineStyle:{color:RED,width:1.8},itemStyle:{color:RED},data:zipP(meanDay,meanWind)},
  {type:'scatter',name:'Latitude',xAxisIndex:2,yAxisIndex:2,z:3,symbolSize:5,itemStyle:{color:'#000',opacity:1},data:zipP(trackDay,trackLat)},
  {type:'scatter',name:'Altitude',xAxisIndex:3,yAxisIndex:3,z:3,symbolSize:4.4,itemStyle:{color:GREY,opacity:1},data:zipP(altDay,altitude)},
  {type:'line',name:'Altitude daily mean',xAxisIndex:3,yAxisIndex:3,z:4,symbol:'none',lineStyle:{color:RED,width:1.8},data:zipP(meanDay,meanAlt)},
  histSeries('U (zonal)',uCounts,'#1f77b4'),
  histSeries('V (meridional)',vCounts,'#ff7f0e')
 ]
};
const chart = echarts.init(document.getElementById('c'),null,{renderer:'canvas',width:1588,height:1189});
chart.setOption(option);
// the map outlines go through the map panel's own axis scales
const toPx = c => chart.convertToPixel({xAxisIndex:0,yAxisIndex:0},c);
const mapElements = [].concat(
  landPolygons.map(poly=>({type:'polygon',z:2,z2:1,silent:true,shape:{points:poly.map(toPx)},style:{fill:'#e6e7e3',stroke:'#bfc5c9',lineWidth:.9}})),
  borderLines.map(l=>({type:'polyline',z:2,z2:2,silent:true,shape:{points:l.map(toPx)},style:{fill:'none',stroke:'#d9dad7',lineWidth:.7}})),
  inlandSeas.map(poly=>({type:'polygon',z:2,z2:3,silent:true,shape:{points:poly.map(toPx)},style:{fill:'#d4e5f1',stroke:'#bfc5c9',lineWidth:.7}})),
  lonLines.map(x=>{const s=toPx([x,-90]),e=toPx([x,90]);return {type:'line',z:2,z2:4,silent:true,shape:{x1:s[0],y1:s[1],x2:e[0],y2:e[1]},style:gridStroke};}),
  latLines.map(y=>{const s=toPx([-180,y]),e=toPx([180,y]);return {type:'line',z:2,z2:4,silent:true,shape:{x1:s[0],y1:s[1],x2:e[0],y2:e[1]},style:gridStroke};})
);
chart.setOption({graphic:{elements:overlayElements.concat(mapElements)}});
</script></body></html>
